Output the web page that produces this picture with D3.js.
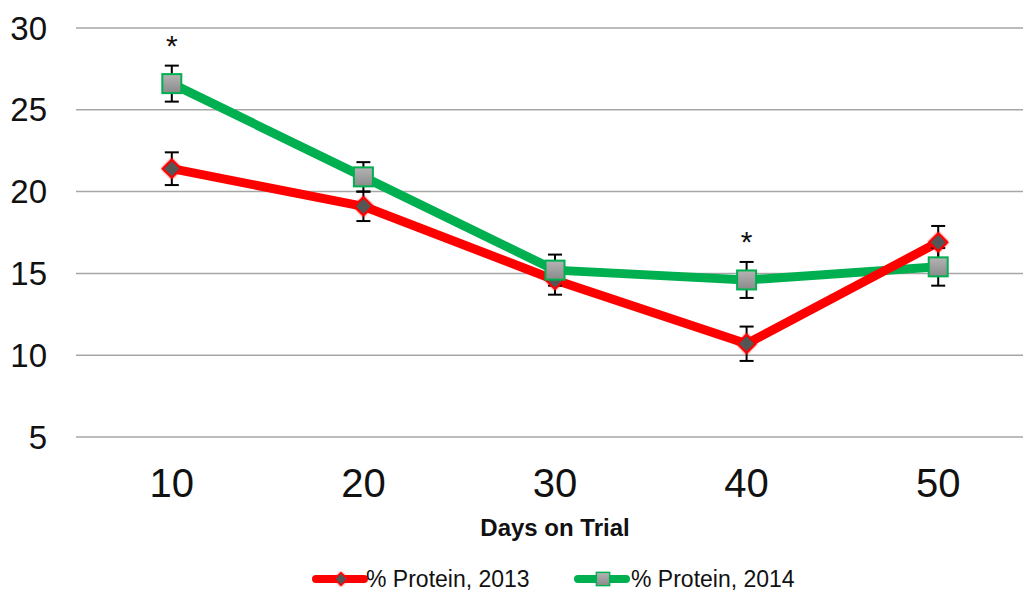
<!DOCTYPE html>
<html>
<head>
<meta charset="utf-8">
<script src="https://cdn.jsdelivr.net/npm/d3@7"></script>
<style>
  html, body { margin: 0; padding: 0; background: #fff; }
  svg { display: block; font-family: "Liberation Sans", Arial, sans-serif; }
</style>
</head>
<body>
<div id="chart"></div>
<script>
// Data
const days = [10, 20, 30, 40, 50];
const protein2013 = [21.4, 19.1, 14.6, 10.7, 16.9];
const err2013 = [1.0, 0.9, 0.9, 1.05, 1.0];
const protein2014 = [26.6, 20.9, 15.2, 14.6, 15.4];
const err2014 = [1.1, 0.9, 0.95, 1.1, 1.15];
const significant = [true, false, false, true, false];
const yTicks = [5, 10, 15, 20, 25, 30];

const width = 1023, height = 594;
const margin = { left: 76, top: 28, bottom: 437 };

const svg = d3.select("#chart").append("svg")
    .attr("width", width)
    .attr("height", height);

const defs = svg.append("defs");
const grad = defs.append("linearGradient")
    .attr("id", "sqGrad")
    .attr("x1", 0).attr("y1", 0).attr("x2", 0).attr("y2", 1);
grad.append("stop").attr("offset", "0%").attr("stop-color", "#b4b4b4");
grad.append("stop").attr("offset", "100%").attr("stop-color", "#8a8a8a");

const glow = defs.append("filter").attr("id", "glow")
    .attr("x", "-50%").attr("y", "-50%").attr("width", "200%").attr("height", "200%");
glow.append("feGaussianBlur").attr("in", "SourceGraphic").attr("stdDeviation", 1.2).attr("result", "b");
const merge = glow.append("feMerge");
merge.append("feMergeNode").attr("in", "b");
merge.append("feMergeNode").attr("in", "SourceGraphic");

// Scales
const x = d3.scaleBand()
    .domain(days)
    .range([margin.left, 1034]);

const y = d3.scaleLinear()
    .domain([5, 30])
    .range([margin.bottom, margin.top]);

const cx = d => x(d) + x.bandwidth() / 2;

// Gridlines
svg.append("g")
    .selectAll("line")
    .data(yTicks)
    .enter()
    .append("line")
    .attr("x1", margin.left)
    .attr("x2", width)
    .attr("y1", d => y(d))
    .attr("y2", d => y(d))
    .attr("stroke", "#a6a6a6")
    .attr("stroke-width", 1.5);

// Y tick labels
svg.append("g")
    .selectAll("text")
    .data(yTicks)
    .enter()
    .append("text")
    .attr("x", 47)
    .attr("y", d => y(d))
    .attr("text-anchor", "end")
    .attr("dominant-baseline", "central")
    .attr("font-size", "33px")
    .attr("fill", "#111")
    .text(d => d);

// X tick labels
svg.append("g")
    .selectAll("text")
    .data(days)
    .enter()
    .append("text")
    .attr("x", d => cx(d))
    .attr("y", 497)
    .attr("text-anchor", "middle")
    .attr("font-size", "40px")
    .attr("fill", "#111")
    .text(d => d);

// Axis title
svg.append("text")
    .attr("x", cx(30))
    .attr("y", 536)
    .attr("text-anchor", "middle")
    .attr("font-size", "24px")
    .attr("font-weight", "700")
    .attr("fill", "#111")
    .text("Days on Trial");

const series = [
    { name: "% Protein, 2013", values: protein2013, errs: err2013, color: "#ff0000", marker: "diamond" },
    { name: "% Protein, 2014", values: protein2014, errs: err2014, color: "#00b050", marker: "square" }
];

const line = d3.line()
    .x(d => cx(d.day))
    .y(d => y(d.value));

const toPoints = s => days.map((day, i) => ({ day, value: s.values[i], err: s.errs[i] }));

// Lines (green beneath red)
[series[1], series[0]].forEach(s => {
    svg.append("path")
        .datum(toPoints(s))
        .attr("fill", "none")
        .attr("stroke", s.color)
        .attr("stroke-width", 9)
        .attr("stroke-linejoin", "round")
        .attr("d", line);
});

// Error bars
series.forEach(s => {
    const g = svg.append("g").attr("stroke", "#000").attr("stroke-width", 2);
    const pts = toPoints(s);
    g.selectAll("line.v")
        .data(pts)
        .enter()
        .append("line")
        .attr("x1", d => cx(d.day)).attr("x2", d => cx(d.day))
        .attr("y1", d => y(d.value + d.err))
        .attr("y2", d => y(d.value - d.err));
    g.selectAll("line.top")
        .data(pts)
        .enter()
        .append("line")
        .attr("x1", d => cx(d.day) - 7).attr("x2", d => cx(d.day) + 7)
        .attr("y1", d => y(d.value + d.err)).attr("y2", d => y(d.value + d.err));
    g.selectAll("line.bot")
        .data(pts)
        .enter()
        .append("line")
        .attr("x1", d => cx(d.day) - 7).attr("x2", d => cx(d.day) + 7)
        .attr("y1", d => y(d.value - d.err)).attr("y2", d => y(d.value - d.err));
});

// Markers
function drawMarker(sel, type, color) {
    if (type === "diamond") {
        sel.append("path")
            .attr("d", "M0,-9L9,0L0,9L-9,0Z")
            .attr("fill", "#555")
            .attr("stroke", color)
            .attr("stroke-width", 2)
            .attr("filter", "url(#glow)");
    } else {
        sel.append("rect")
            .attr("x", -9.5).attr("y", -9.5)
            .attr("width", 19).attr("height", 19)
            .attr("fill", "url(#sqGrad)")
            .attr("stroke", color)
            .attr("stroke-width", 2);
    }
}

series.forEach(s => {
    svg.append("g")
        .selectAll("g")
        .data(toPoints(s))
        .enter()
        .append("g")
        .attr("transform", d => `translate(${cx(d.day)},${y(d.value)})`)
        .each(function () { drawMarker(d3.select(this), s.marker, s.color); });
});

// Significance asterisks above the highest error bar
svg.append("g")
    .selectAll("text")
    .data(days.filter((d, i) => significant[i]))
    .enter()
    .append("text")
    .attr("x", d => cx(d))
    .attr("y", d => {
        const i = days.indexOf(d);
        const top = Math.max(protein2013[i] + err2013[i], protein2014[i] + err2014[i]);
        return y(top) - 10;
    })
    .attr("text-anchor", "middle")
    .attr("font-size", "30px")
    .attr("fill", "#111")
    .text("*");

// Legend
const legend = svg.append("g");
const legendItems = [
    { s: series[0], x: 316, textX: 366 },
    { s: series[1], x: 578, textX: 631 }
];
legendItems.forEach(item => {
    const ly = 579;
    legend.append("line")
        .attr("x1", item.x).attr("x2", item.x + 48)
        .attr("y1", ly).attr("y2", ly)
        .attr("stroke", item.s.color)
        .attr("stroke-width", 8)
        .attr("stroke-linecap", "round");
    const m = legend.append("g")
        .attr("transform", `translate(${item.x + 25},${ly}) scale(0.7)`);
    drawMarker(m, item.s.marker, item.s.color);
    legend.append("text")
        .attr("x", item.textX)
        .attr("y", ly)
        .attr("dominant-baseline", "central")
        .attr("font-size", "23px")
        .attr("fill", "#111")
        .text(item.s.name);
});
</script>
</body>
</html>
